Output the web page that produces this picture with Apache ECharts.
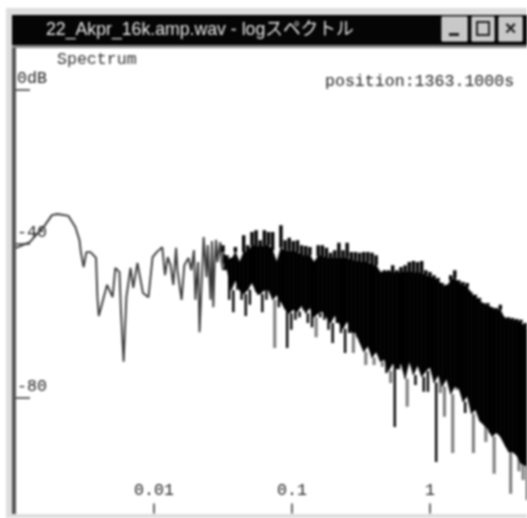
<!DOCTYPE html>
<html><head><meta charset="utf-8">
<style>html,body{margin:0;padding:0;background:#fff;overflow:hidden}#c{width:527px;height:518px;filter:blur(1px)}</style>
<script src="https://cdn.jsdelivr.net/npm/echarts@6/dist/echarts.min.js"></script>
</head><body><div id="c"></div>
<script>
const windowTitle = '22_Akpr_16k.amp.wav - logスペクトル';
const chartLabel = 'Spectrum';
const positionLabel = 'position:1363.1000s';
const xTicks = [0.01, 0.1, 1];
const yTicks = [0, -40, -80];
const yTickLabels = {'0':'0dB','-40':'-40','-80':'-80'};
// log10(frequency) and dB, sparse low-frequency part
const lowLogFreq = [-3.00,-2.90,-2.79,-2.74,-2.70,-2.62,-2.57,-2.54,-2.53,-2.51,-2.49,-2.46,-2.42,-2.41,-2.40,-2.34,-2.30,-2.28,-2.25,-2.24,-2.22,-2.20,-2.17,-2.15,-2.12,-2.08,-2.04,-2.01,-1.98,-1.94,-1.92,-1.90,-1.88,-1.86,-1.84,-1.83,-1.80,-1.78,-1.75,-1.73,-1.71,-1.70,-1.68,-1.67,-1.64,-1.62,-1.61,-1.59,-1.58,-1.57,-1.56,-1.55,-1.54,-1.52,-1.51];
const lowDb = [-41.0,-39.5,-35.1,-32.5,-32.2,-32.7,-35.6,-39.0,-42.1,-46.0,-42.1,-42.1,-43.6,-53.8,-58.7,-50.6,-53.8,-46.2,-47.3,-57.1,-70.6,-53.8,-46.2,-51.4,-44.9,-52.7,-53.8,-43.4,-42.1,-40.8,-48.1,-43.4,-45.5,-50.6,-41.0,-46.8,-54.5,-45.5,-43.6,-46.8,-41.6,-54.5,-44.7,-62.9,-38.2,-48.6,-40.3,-54.5,-39.2,-56.4,-44.7,-38.9,-44.7,-39.5,-44.7];
// dense part: upper and lower excursions per frequency step
const denseLogFreq = [-1.50,-1.47,-1.44,-1.41,-1.38,-1.35,-1.32,-1.29,-1.26,-1.23,-1.20,-1.17,-1.14,-1.11,-1.08,-1.05,-1.02,-0.99,-0.96,-0.93,-0.90,-0.87,-0.84,-0.81,-0.78,-0.75,-0.72,-0.69,-0.66,-0.63,-0.60,-0.57,-0.54,-0.51,-0.48,-0.45,-0.42,-0.39,-0.36,-0.33,-0.30,-0.27,-0.24,-0.21,-0.18,-0.15,-0.12,-0.09,-0.06,-0.03,0.00,0.03,0.06,0.09,0.12,0.15,0.18,0.21,0.24,0.27,0.30,0.33,0.36,0.39,0.42,0.45,0.48,0.51,0.54,0.57,0.60,0.63,0.66,0.69,0.72];
const denseTop = [-40.3,-42.9,-43.6,-40.8,-44.7,-37.7,-40.3,-36.9,-36.4,-39.0,-36.4,-36.9,-36.9,-44.7,-35.1,-39.0,-38.4,-39.2,-39.0,-40.3,-40.5,-40.8,-46.8,-40.3,-40.3,-41.0,-42.3,-41.6,-39.7,-41.6,-39.7,-42.1,-42.1,-42.3,-42.1,-42.1,-42.3,-42.9,-47.3,-46.8,-46.8,-45.5,-46.8,-46.0,-45.5,-44.7,-44.4,-44.7,-44.4,-46.8,-47.3,-48.1,-48.8,-50.1,-50.6,-48.1,-46.8,-49.4,-49.9,-50.1,-52.5,-53.2,-54.0,-55.3,-55.3,-56.4,-56.6,-55.8,-59.0,-59.0,-59.2,-59.5,-59.7,-60.5,-61.6];
const denseBottom = [-46.8,-54.5,-57.7,-51.9,-54.5,-58.7,-55.8,-50.6,-53.2,-57.7,-54.5,-51.9,-67.0,-56.4,-55.3,-67.0,-62.3,-59.7,-59.0,-57.1,-60.5,-61.6,-64.2,-59.0,-59.7,-62.3,-65.7,-60.5,-63.1,-68.3,-63.1,-68.3,-64.2,-64.9,-71.4,-66.8,-71.4,-67.5,-71.9,-73.5,-76.1,-87.5,-70.9,-70.1,-82.3,-65.7,-76.6,-71.9,-78.4,-78.4,-70.9,-96.6,-78.7,-84.9,-74.5,-94.3,-77.9,-77.1,-83.9,-79.7,-94.3,-83.1,-85.7,-91.4,-89.1,-99.7,-89.1,-85.7,-92.7,-104.9,-92.7,-99.0,-101.3,-106.5,-107.8];
// solid core of the dense part
const coreTop = [-42.1,-43.6,-44.2,-42.1,-44.7,-42.1,-42.1,-40.3,-40.3,-40.8,-40.3,-40.3,-41.6,-44.7,-41.0,-42.1,-41.6,-42.1,-42.1,-42.9,-42.9,-42.9,-44.7,-43.1,-43.1,-43.6,-43.6,-43.6,-43.6,-43.6,-43.6,-44.2,-44.2,-44.7,-44.7,-44.7,-45.5,-45.5,-47.3,-47.3,-47.3,-47.3,-47.5,-47.3,-47.3,-47.3,-47.3,-47.5,-47.5,-48.1,-48.6,-48.8,-49.4,-50.6,-51.2,-49.4,-48.8,-50.1,-50.6,-51.2,-52.7,-53.8,-54.5,-55.8,-55.8,-56.6,-57.1,-57.1,-59.2,-59.5,-59.7,-60.0,-60.3,-61.8,-62.3];
const coreBottom = [-44.7,-46.8,-52,-49.4,-52,-53,-51.9,-50,-52.5,-53,-52,-52,-54.5,-53.2,-55,-57,-58,-57,-57.5,-56,-58,-56.5,-59,-58,-57.5,-59,-60.5,-58.5,-60.5,-62,-60,-63,-63,-65.5,-68,-66.5,-69.5,-68,-70.5,-70,-73,-71,-72.5,-71,-75,-70.5,-74,-71.5,-74.5,-73,-72,-76,-74,-77,-75,-79,-77,-77.5,-81,-79.5,-84,-83,-86,-87,-88,-90,-89,-90,-92,-94,-94,-95,-97,-97.5,-98];
// steps whose lower excursion looks grey in the picture
const greySteps = [12,22,31,34,36,37,38,40,44,52,53,55,56,57,60,61,63,65,69,71,72];

const toF = e => Math.pow(10, e);
const lowData = lowLogFreq.map((e,i)=>[toF(e), lowDb[i]]);
const topSpikes = [], blackSpikes = [], greySpikes = [];
denseLogFreq.forEach((e,i)=>{
  const f2 = toF(e+0.015);
  topSpikes.push([toF(e), coreTop[i]],[toF(e), denseTop[i]],[toF(e), null]);
  const target = greySteps.includes(i) ? greySpikes : blackSpikes;
  target.push([f2, coreBottom[i]],[f2, denseBottom[i]],[f2, null]);
});
const coreData = denseLogFreq.map((e,i)=>[toF(e), coreTop[i], coreBottom[i]]);
lowData.push([toF(denseLogFreq[0]), denseBottom[0]]);

function renderCore(params, api){
  const i = params.dataIndex;
  if (i >= coreData.length-1) return null;
  const a = coreData[i], b = coreData[i+1];
  return {type:'polygon',shape:{points:[
      api.coord([a[0],a[1]]),api.coord([b[0],b[1]]),api.coord([b[0],b[2]]),api.coord([a[0],a[2]])]},
    style:{fill:'#000',stroke:'#000',lineWidth:0.6}};
}

const mono = '"Liberation Mono", monospace';
function btn(x,w){ return {type:'rect',shape:{x:x,y:17,width:w,height:24},style:{fill:'#c8c8c8',stroke:'#e8e8e8',lineWidth:1},z:20}; }
const chart = echarts.init(document.getElementById('c'),null,{renderer:'canvas'});
chart.setOption({
  animation:false,
  backgroundColor:'#fff',
  grid:{left:16,right:0,top:51.5,height:462,containLabel:false},
  xAxis:{type:'log',logBase:10,min:0.001,max:5.05,
    axisLine:{show:false,onZero:false},splitLine:{show:false},minorTick:{show:false},
    axisTick:{show:true,inside:true,length:10,customValues:xTicks,lineStyle:{color:'#333',width:1.5}},
    axisLabel:{show:true,inside:true,margin:14,customValues:xTicks,color:'#222',fontFamily:mono,fontSize:16.6,
      formatter:v=>String(+(+v).toPrecision(3))}},
  yAxis:{type:'value',min:-110,max:10,
    axisLine:{show:false,onZero:false},splitLine:{show:false},
    axisTick:{show:true,inside:true,length:14,customValues:yTicks,lineStyle:{color:'#333',width:1.5}},
    axisLabel:{show:true,inside:true,margin:1,customValues:yTicks,color:'#222',fontFamily:mono,fontSize:16.6,
      verticalAlign:'bottom',lineHeight:22,formatter:v=>yTickLabels[String(Math.round(v))]}},
  series:[
    {type:'line',name:'grey',data:greySpikes,showSymbol:false,symbol:'none',connectNulls:false,lineStyle:{color:'#7a7a7a',width:3},z:2},
    {type:'custom',name:'core',data:coreData,renderItem:renderCore,encode:{x:0,y:[1,2]},clip:true,z:3},
    {type:'line',name:'low',data:lowData,showSymbol:false,symbol:'none',lineStyle:{color:'#3a3a3a',width:1.9},z:3},
    {type:'line',name:'top',data:topSpikes,showSymbol:false,symbol:'none',connectNulls:false,lineStyle:{color:'#000',width:3.4},z:4},
    {type:'line',name:'black',data:blackSpikes,showSymbol:false,symbol:'none',connectNulls:false,lineStyle:{color:'#000',width:2.4},z:4}
  ],
  graphic:[
    {type:'rect',shape:{x:6,y:8,width:521,height:7},style:{fill:'#dedede'},z:10},
    {type:'rect',shape:{x:6,y:8,width:6,height:510},style:{fill:'#dedede'},z:10},
    {type:'rect',shape:{x:12,y:15,width:4,height:503},style:{fill:'#555'},z:10},
    {type:'rect',shape:{x:12,y:514,width:515,height:4},style:{fill:'#dedede'},z:10},
    {type:'rect',shape:{x:12,y:15,width:515,height:30},style:{fill:'#050505'},z:10},
    {type:'rect',shape:{x:12,y:45,width:515,height:3},style:{fill:'#888'},z:10},
    {type:'text',style:{x:46,y:30,text:windowTitle,fill:'#e8e8e8',font:'17.7px "Liberation Sans","Noto Sans CJK JP",sans-serif',textVerticalAlign:'middle'},z:21},
    btn(442,25),btn(472,22),btn(499,23),
    {type:'rect',shape:{x:449,y:33,width:10,height:3},style:{fill:'#222'},z:21},
    {type:'rect',shape:{x:477,y:22,width:12,height:13},style:{fill:'none',stroke:'#222',lineWidth:2},z:21},
    {type:'text',style:{x:510.5,y:29,text:'×',fill:'#222',font:'bold 20px "Liberation Sans",sans-serif',textAlign:'center',textVerticalAlign:'middle'},z:21},
    {type:'text',style:{x:57,y:60,text:chartLabel,fill:'#333',font:'16.6px '+mono,textVerticalAlign:'middle'},z:21},
    {type:'text',style:{x:325,y:82,text:positionLabel,fill:'#222',font:'16.6px '+mono,textVerticalAlign:'middle'},z:21}
  ]
});
</script></body></html>
